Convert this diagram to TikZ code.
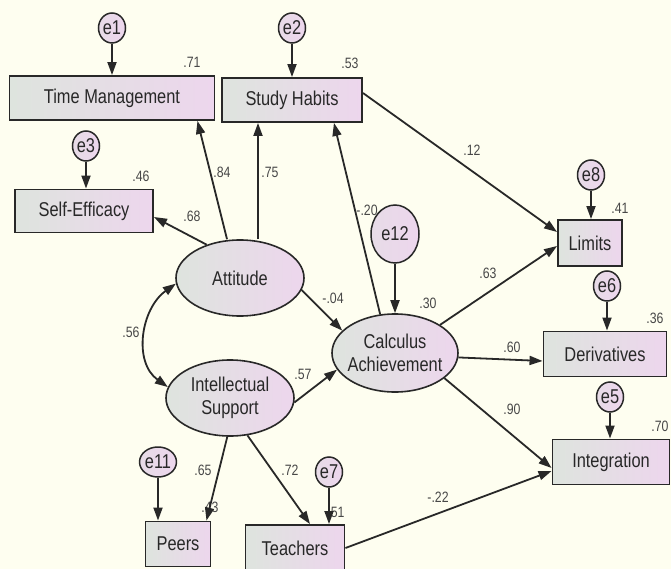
\documentclass[tikz,border=0pt]{standalone}
\usepackage{fontspec}
\setmainfont{Liberation Sans}[FakeStretch=0.82]
\usetikzlibrary{shapes.geometric,arrows.meta}
\definecolor{paper}{RGB}{254,254,240}
\definecolor{boxl}{RGB}{222,228,222}
\definecolor{boxr}{RGB}{237,214,237}
\definecolor{ink}{RGB}{40,40,40}

\begin{document}
\begin{tikzpicture}[x=1pt,y=-1pt,
  obs/.style={draw=ink,line width=1.9pt,left color=boxl,right color=boxr,inner sep=0pt,text=ink,font=\fontsize{20}{24}\selectfont},
  latent/.style={ellipse,draw=ink,line width=1.6pt,left color=boxl,right color=boxr,minimum width=128pt,minimum height=76pt,inner xsep=-9pt,inner ysep=0pt,align=center,text=ink,font=\fontsize{20}{23}\selectfont},
  err/.style={ellipse,draw=ink,line width=1.5pt,left color=boxl!40!boxr,right color=boxr,minimum width=27pt,minimum height=30pt,inner sep=0pt,text=ink,font=\fontsize{20}{22}\selectfont},
  arr/.style={-{Triangle[length=13pt,width=9pt]},line width=1.8pt,draw=ink},
  lbl/.style={text=ink!85,font=\fontsize{15}{17}\selectfont,inner sep=0pt}]

\fill[paper] (0,0) rectangle (671,569);
\useasboundingbox (0,0) rectangle (671,569);

% estimates
\foreach \x/\y/\t [count=\i] in {192/62/.71, 350/63/.53, 141/176/.46, 222/172/.84, 270/172/.75,
  192/216/.68, 472/150/.12, 620/208/.41, 367/210/-.20, 428/303/.30, 333/298/-.04,
  488/273/.63, 655/318/.36, 512/347/.60, 512/409/.90, 660/426/.70, 131/332/.56,
  303/374/.57, 203/470/.65, 290/470/.72, 210/507/.43, 336/512/.51, 438/497/-.22}
  \node[lbl] (lab\i) at (\x,\y) {\t};

% observed
\node[obs,minimum width=205pt,minimum height=44pt] (tm) at (112,98) {Time Management};
\node[obs,minimum width=140pt,minimum height=44pt] (sh) at (292,100) {Study Habits};
\node[obs,minimum width=138pt,minimum height=43pt] (se) at (84,211) {Self-Efficacy};
\node[obs,minimum width=64pt,minimum height=46pt] (lim) at (590,243) {Limits};
\node[obs,minimum width=123pt,minimum height=45pt] (der) at (605,354) {Derivatives};
\node[obs,minimum width=117pt,minimum height=45pt] (integ) at (611,462) {Integration};
\node[obs,minimum width=65pt,minimum height=45pt] (peers) at (178,544) {Peers};
\node[obs,minimum width=99pt,minimum height=46pt] (teach) at (295,548) {Teachers};

% latent
\node[latent] (att) at (240,278) {Attitude};
\node[latent] (intel) at (230,398) {Intellectual\\Support};
\node[latent,minimum width=126pt,minimum height=78pt] (calc) at (395,353) {Calculus\\Achievement};

% errors
\foreach \n/\x/\y/\t in {e1/112/28/tm, e2/292/28/sh, e3/86/146/se, e8/591/175/lim,
  e6/607/286/der, e5/610/397/integ, e11/158/462/peers, e7/329/472/teach} {
  \node[err] (\n) at (\x,\y) {\n};
  \draw[arr] (\n) -- (\n |- \t.north);
}
\node[err,minimum width=48pt,minimum height=58pt] (e12) at (395,234) {e12};
\draw[arr] (e12) -- (calc);

% paths
\draw[arr] ([xshift=-13pt]att.north) -- ([xshift=-18pt]tm.south east);
\draw[arr] ([xshift=18pt]att.north) -- ([xshift=18pt]att.north |- sh.south);
\draw[arr] (att.135) -- ([yshift=-6pt]se.east);
\draw[arr] (att.349) -- (calc.157);
\draw[arr] (calc.111) -- ([xshift=-29pt]sh.south east);
\draw[arr] ([yshift=7pt]sh.east) -- ([yshift=11pt]lim.west);
\draw[arr] (calc.32) -- ([yshift=-3pt]lim.west);
\draw[arr] (calc.356) -- ([yshift=-7pt]der.west);
\draw[arr] (calc.333) -- ([yshift=-6pt]integ.west);
\draw[arr] (intel.356) -- (calc.196);
\draw[arr] (intel.266) -- ([xshift=-5pt]peers.north east);
\draw[arr] (intel.295) -- ([xshift=15pt]teach.north);
\draw[arr] (teach.east) -- ([yshift=-9pt]integ.west);
\draw[arr,{Triangle[length=13pt,width=9pt]}-{Triangle[length=13pt,width=9pt]}]
  (att.185) .. controls +(-35,25) and +(-35,-25) .. (intel.170);

\end{tikzpicture}
\end{document}
